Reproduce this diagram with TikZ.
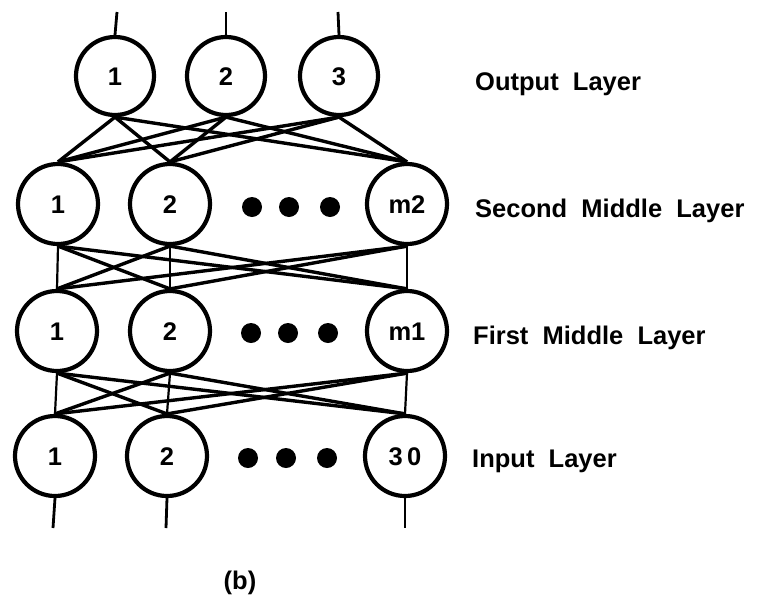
\documentclass[tikz,border=0pt]{standalone}
\usepackage{fontspec}
\setmainfont{Liberation Sans}
\begin{document}
\begin{tikzpicture}[x=1pt,y=-1pt,
  neuron/.style={circle,draw,line width=4.2pt,minimum size=80pt,inner sep=0pt,
    text height=18pt,text depth=0pt,
    font=\fontsize{25.5}{28}\selectfont\bfseries},
  dotmark/.style={circle,fill,inner sep=0pt,minimum size=20pt},
  link/.style={line width=3.4pt},
  thinlink/.style={line width=2.2pt},
  stub/.style={line width=2.8pt},
  lbl/.style={anchor=base west,inner sep=0pt,font=\fontsize{25.5}{30}\selectfont\bfseries}]
\useasboundingbox (0,0) rectangle (757,600);

% output layer
\node[neuron,minimum size=78pt] (o1) at (115,76) {1};
\node[neuron,minimum size=78pt] (o2) at (226,76) {2};
\node[neuron,minimum size=78pt] (o3) at (339,76) {3};

% second middle layer
\node[neuron] (s1) at (58,204) {1};
\node[neuron] (s2) at (170,204) {2};
\node[neuron] (s3) at (407,204) {m2};
\node[dotmark] (sd1) at (252,207) {};
\node[dotmark] (sd2) at (289,207) {};
\node[dotmark] (sd3) at (330,207) {};

% first middle layer
\node[neuron] (f1) at (57,331) {1};
\node[neuron] (f2) at (170,331) {2};
\node[neuron] (f3) at (407,331) {m1};
\node[dotmark] (fd1) at (251,333) {};
\node[dotmark] (fd2) at (288,333) {};
\node[dotmark] (fd3) at (328,333) {};

% input layer
\node[neuron] (i1) at (55,456) {1};
\node[neuron] (i2) at (167,456) {2};
\node[neuron] (i3) at (405,456) {3\,0};
\node[dotmark] (id1) at (248,458) {};
\node[dotmark] (id2) at (286,458) {};
\node[dotmark] (id3) at (327,458) {};

% free ends of the stubs
\coordinate (ot1) at (117,12);
\coordinate (ot2) at (226,12);
\coordinate (ot3) at (338,12);
\coordinate (ib1) at (53,528);
\coordinate (ib2) at (166,528);
\coordinate (ib3) at (405,528);

\foreach \k in {1,2,3} {
  \draw[stub] (o\k.north) -- (ot\k);
  \draw[stub] (i\k.south) -- (ib\k);
}

% output <- second middle
\foreach \a in {1,2,3}
  \foreach \b in {1,2,3}
    \draw[link] (o\a.south) -- (s\b.north);

% second middle <- first middle, first middle <- input
\foreach \a in {1,2,3}
  \foreach \b in {1,2,3} {
    \ifnum\a=\b
      \draw[thinlink] (s\a.south) -- (f\b.north);
      \draw[thinlink] (f\a.south) -- (i\b.north);
    \else
      \draw[link] (s\a.south) -- (f\b.north);
      \draw[link] (f\a.south) -- (i\b.north);
    \fi
  }

% layer names
\node[lbl] (lo) at (475,90) {Output\ \ Layer};
\node[lbl] (ls) at (475,217) {Second\ \ Middle\ \ Layer};
\node[lbl] (lf) at (473,344) {First\ \ Middle\ \ Layer};
\node[lbl] (li) at (472,467) {Input\ \ Layer};

\node[anchor=base,inner sep=0pt,font=\fontsize{25.5}{30}\selectfont\bfseries] (cap) at (240,589) {(b)};
\end{tikzpicture}
\end{document}
